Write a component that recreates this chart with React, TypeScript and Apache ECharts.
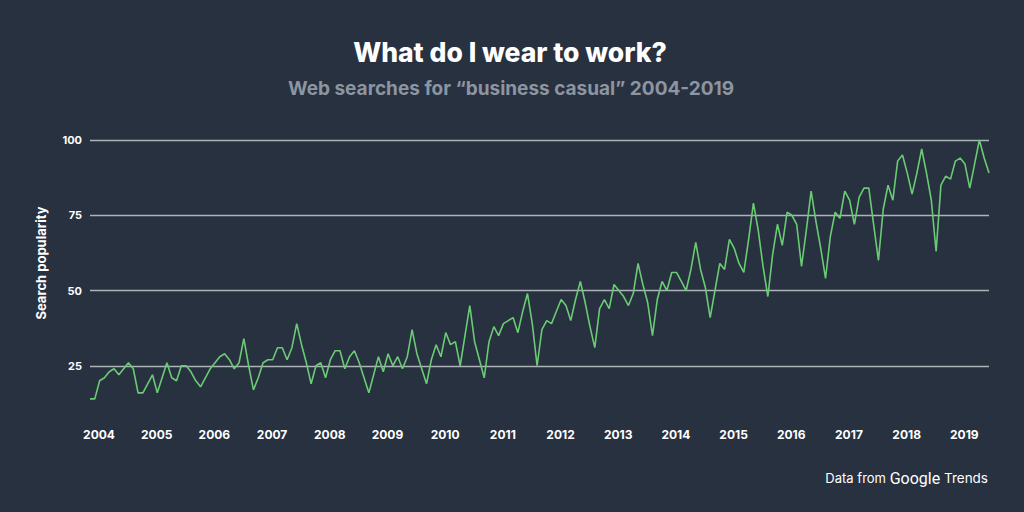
import React, { useEffect, useRef } from "react";
import * as echarts from "echarts";

const yearLabels = [
  "2004", "2005", "2006", "2007", "2008", "2009", "2010", "2011",
  "2012", "2013", "2014", "2015", "2016", "2017", "2018", "2019",
];
const yTicks = [25, 50, 75, 100];
// monthly search popularity, one value per month from the start of 2004
const popularity = [
  14, 14, 20, 21, 23, 24, 22, 24, 26, 24, 16, 16,
  19, 22, 16, 21, 26, 21, 20, 25, 25, 23, 20, 18,
  21, 24, 26, 28, 29, 27, 24, 26, 34, 25, 17, 21,
  26, 27, 27, 31, 31, 27, 31, 39, 32, 26, 19, 25,
  26, 21, 27, 30, 30, 24, 28, 30, 26, 21, 16, 22,
  28, 23, 29, 25, 28, 24, 28, 37, 29, 24, 19, 27,
  32, 28, 36, 32, 33, 25, 35, 45, 33, 27, 21, 33,
  38, 35, 39, 40, 41, 36, 43, 49, 39, 25, 37, 40,
  39, 43, 47, 45, 40, 47, 53, 46, 38, 31, 44, 47,
  44, 52, 50, 48, 45, 49, 59, 52, 46, 35, 47, 53,
  50, 56, 56, 53, 50, 57, 66, 57, 51, 41, 50, 59,
  57, 67, 64, 59, 56, 67, 79, 70, 58, 48, 62, 72,
  65, 76, 75, 72, 58, 70, 83, 73, 64, 54, 68, 76,
  74, 83, 80, 72, 81, 84, 84, 72, 60, 77, 85, 80,
  93, 95, 89, 82, 89, 97, 89, 80, 63, 85, 88, 87,
  93, 94, 92, 84, 92, 100, 94, 89,
];

const titleText = "What do I wear to work?";
const subtitleText = "Web searches for \u201cbusiness casual\u201d 2004-2019";
const yAxisTitle = "Search popularity";

export default function App() {
  const ref = useRef<HTMLDivElement>(null);
  useEffect(() => {
    const chart = echarts.init(ref.current!, null, { renderer: "svg" });
    const font = "Inter, 'Noto Sans', sans-serif";
    chart.setOption({
      animation: false,
      backgroundColor: "#28313f",
      textStyle: { fontFamily: font },
      grid: { left: 90, right: 35, top: 140, bottom: 71, containLabel: false },
      xAxis: {
        type: "value",
        min: 0,
        max: popularity.length - 1,
        interval: 12,
        axisLine: { show: false },
        axisTick: { show: false },
        splitLine: { show: false },
        axisLabel: {
          color: "#ffffff",
          fontFamily: font,
          fontWeight: 700,
          fontSize: 12,
          margin: -13,
          padding: [0, 0, 0, 18],
          showMaxLabel: false,
          formatter: (v: number) => (v % 12 === 0 ? yearLabels[v / 12] ?? "" : ""),
        },
      },
      yAxis: {
        type: "value",
        min: 0,
        max: yTicks[yTicks.length - 1],
        interval: yTicks[0],
        axisLine: { show: false },
        axisTick: { show: false },
        axisLabel: {
          color: "#ffffff",
          fontFamily: font,
          fontWeight: 700,
          fontSize: 11,
          margin: 8,
          showMinLabel: false,
        },
        splitLine: {
          show: true,
          showMinLine: false,
          lineStyle: { color: "#aeb3ba", width: 1.3 },
        },
      },
      series: [
        {
          type: "line",
          data: popularity.map((v, i) => [i, v]),
          showSymbol: false,
          symbol: "none",
          lineStyle: { color: "#6acb74", width: 1.6 },
        },
      ],
      graphic: [
        {
          type: "text",
          x: 510,
          y: 52,
          style: {
            text: titleText,
            fill: "#ffffff",
            font: `800 26.5px ${font}`,
            textAlign: "center",
            textVerticalAlign: "middle",
          },
        },
        {
          type: "text",
          x: 511,
          y: 88,
          style: {
            text: subtitleText,
            fill: "#8c95a1",
            font: `700 19px ${font}`,
            textAlign: "center",
            textVerticalAlign: "middle",
          },
        },
        {
          type: "text",
          x: 41,
          y: 263,
          rotation: Math.PI / 2,
          style: {
            text: yAxisTitle,
            fill: "#ffffff",
            font: `700 13px ${font}`,
            textAlign: "center",
            textVerticalAlign: "middle",
          },
        },
        {
          type: "text",
          x: 988,
          y: 478,
          style: {
            text: "{a|Data from }{g|Google}{t| Trends}",
            fill: "#ffffff",
            textAlign: "right",
            textVerticalAlign: "middle",
            rich: {
              a: { fontFamily: font, fontSize: 13, fill: "#ffffff", fontWeight: 400 },
              g: { fontFamily: "Roboto, 'Open Sans', sans-serif", fontSize: 16, fill: "#ffffff", fontWeight: 400 },
              t: { fontFamily: font, fontSize: 13.5, fill: "#ffffff", fontWeight: 400 },
            },
          },
        },
      ],
    });
    return () => chart.dispose();
  }, []);
  return (
    <div
      ref={ref}
      style={{ position: "fixed", left: 0, top: 0, width: 1024, height: 512 }}
    />
  );
}
